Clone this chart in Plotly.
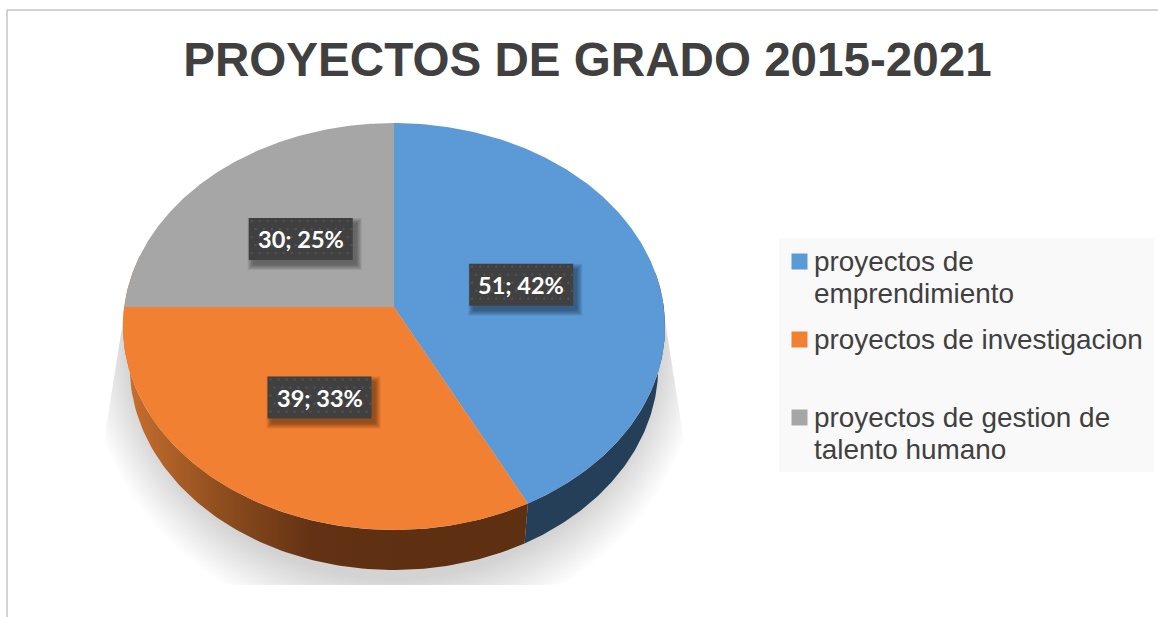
import numpy as np
import plotly.graph_objects as go

TITLE = "PROYECTOS DE GRADO 2015-2021"
CATEGORIES = ["proyectos de<br>emprendimiento", "proyectos de investigacion", "proyectos de gestion de<br>talento humano"]
VALUES = [51, 39, 30]
PERCENT_LABELS = ["42%", "33%", "25%"]
COLORS = ["#5b9ad7", "#f28032", "#a6a6a6"]
SIDE_BLUE = "#243f57"
TEXT_DARK = "#404040"

CX, APEX_Y, A, B, K = 394.0, 307.0, 269.8, 201.6, 0.0958
DEPTH, SHRINK = 40.0, 0.975


def project(theta_deg, r=1.0, lower=False):
    t = np.radians(theta_deg)
    u, v = r * np.sin(t), r * np.cos(t)
    w = 1 + K * v
    x = A * u / w
    y = -B * v / w
    if lower:
        return CX + SHRINK * x, APEX_Y + DEPTH + y
    return CX + x, APEX_Y + y


total = sum(VALUES)
edges = np.cumsum([0] + VALUES) / total * 360.0
fig = go.Figure()


def poly(x, y, color, **kw):
    fig.add_trace(go.Scatter(x=list(x), y=list(y), mode="lines", fill="toself", fillcolor=color,
                             line=dict(width=0), hoverinfo="skip", showlegend=False, **kw))


# soft ground shadow, hidden above by the pie and cut flat below
def shadow_layer(f, alpha):
    t = np.linspace(0, 2 * np.pi, 240)
    rx = 266 + f * 44
    ry = 240 + f * 52
    x = CX + rx * np.cos(t)
    y = 340 + ry * np.sin(t)
    y = np.clip(y, 300, 585)
    half = 268 + (y - 300) * (289 - 268) / 133.0
    half = np.minimum(half, 290)
    x = np.clip(x, CX - half, CX + half)
    poly(x, y, f"rgba(0,0,0,{alpha:.4f})")


N = 22
for i in range(N):
    shadow_layer(1 - i / (N - 1), 0.212 / N)

# side wall
for start, end, color, grad in [
    (80.0, edges[1], SIDE_BLUE, None),
    (edges[1], 285.0, None, True),
]:
    th = np.linspace(start, end, 120)
    xt, yt = project(th)
    xb, yb = project(th[::-1], lower=True)
    xs = np.r_[xt, xb]
    ys = np.r_[yt, yb]
    if grad:
        fig.add_trace(go.Scatter(
            x=xs, y=ys, mode="lines", fill="toself", line=dict(width=0), hoverinfo="skip", showlegend=False,
            fillgradient=dict(type="horizontal", start=124, stop=400,
                              colorscale=[[0, "#c97030"], [0.35, "#8f4e1e"], [0.68, "#633214"], [1, "#5f2f12"]])))
    else:
        poly(xs, ys, color)

# top face
for i, c in enumerate(COLORS):
    th = np.linspace(edges[i], edges[i + 1], 200)
    x, y = project(th)
    poly(np.r_[CX, x, CX], np.r_[APEX_Y, y, APEX_Y], c)

# data labels
BW, BH = 104, 42
for i, (val, pct) in enumerate(zip(VALUES, PERCENT_LABELS)):
    mid = (edges[i] + edges[i + 1]) / 2
    lx, ly = project(mid, r=0.5)
    lx, ly = float(lx) - 1, float(ly) + 1
    if i == 0:
        lx -= 1.5
    x0, x1, y0, y1 = lx - BW / 2, lx + BW / 2, ly - BH / 2, ly + BH / 2
    for g in range(6):
        d = 5 - g
        poly([x0 + 4 - d, x1 + 4 + d, x1 + 4 + d, x0 + 4 - d], [y0 + 5 - d, y0 + 5 - d, y1 + 5 + d, y1 + 5 + d],
             "rgba(0,0,0,0.075)")
    poly([x0, x1, x1, x0], [y0, y0, y1, y1], "#404040")
    gx, gy = np.meshgrid(np.arange(x0 + 3, x1 - 1, 8), np.arange(y0 + 3, y1 - 1, 8))
    gx[1::2] += 4
    fig.add_trace(go.Scatter(x=gx.ravel(), y=gy.ravel(), mode="markers", hoverinfo="skip", showlegend=False,
                             marker=dict(symbol="square", size=2, color="#555555", line=dict(width=0))))
    fig.add_annotation(x=lx, y=ly, xref="x", yref="y", text=f"<b>{val}; {pct}</b>", showarrow=False,
                       font=dict(family="Lato", size=23.5, color="white"))

# legend
LEG_Y = [261.5, 339.5, 417.5]
LINE_H = 32
for lab, c, ly in zip(CATEGORIES, COLORS, LEG_Y):
    fig.add_trace(go.Scatter(x=[799.5], y=[ly], mode="markers", hoverinfo="skip", showlegend=False,
                             marker=dict(symbol="square", size=16, color=c, line=dict(width=0))))
    for j, line in enumerate(lab.split("<br>")):
        fig.add_annotation(x=811.5, y=ly + j * LINE_H, xref="x", yref="y", text=line, showarrow=False,
                           xanchor="left", yanchor="middle", font=dict(family="Liberation Sans", size=27.9, color=TEXT_DARK))

fig.update_layout(
    width=1158, height=617, margin=dict(l=0, r=0, t=0, b=0), autosize=False,
    paper_bgcolor="white", plot_bgcolor="white", showlegend=False,
    xaxis=dict(range=[0, 1158], visible=False, fixedrange=True),
    yaxis=dict(range=[617, 0], visible=False, fixedrange=True),
    title=dict(text=f"<b>{TITLE}</b>", x=587.5 / 1158, xanchor="center", y=1 - 59 / 617, yanchor="middle",
               font=dict(family="Liberation Sans", size=47.6, color=TEXT_DARK)),
    shapes=[
        dict(type="rect", xref="x", yref="y", x0=779, x1=1154, y0=238, y1=472, fillcolor="#f9f9f9",
             line=dict(width=0), layer="below"),
        dict(type="line", xref="x", yref="y", x0=7, x1=1158, y0=10, y1=10, line=dict(color="#c4c4c4", width=1.5)),
        dict(type="line", xref="x", yref="y", x0=7, x1=7, y0=10, y1=617, line=dict(color="#c4c4c4", width=1.5)),
    ],
)

fig.write_html("out.html", config=dict(displayModeBar=False),
               post_script="document.body.style.margin='0';")
